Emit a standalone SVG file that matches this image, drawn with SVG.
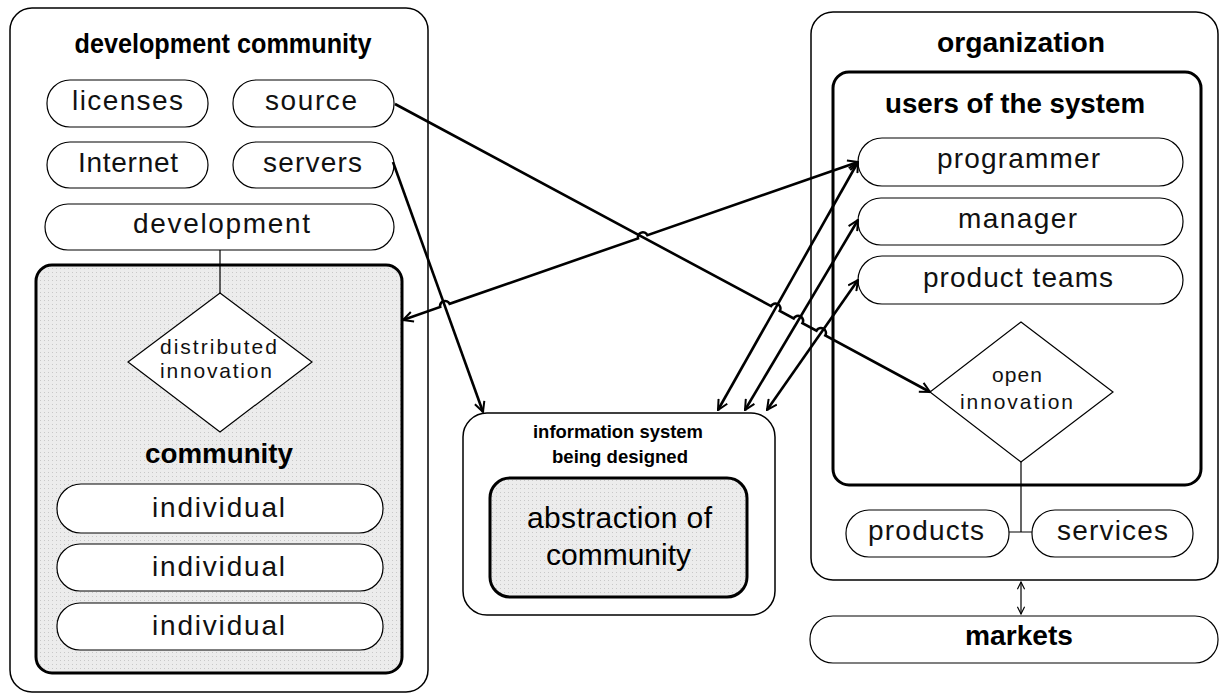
<svg xmlns="http://www.w3.org/2000/svg" width="1220" height="696" viewBox="0 0 1220 696">
<defs>
<pattern id="dots" width="4" height="4" patternUnits="userSpaceOnUse">
<rect width="4" height="4" fill="#ececec"/>
<rect x="0" y="0" width="1" height="1" fill="#c8c8c8"/>
</pattern>
<marker id="arr" viewBox="0 0 12 12" refX="11" refY="6" markerWidth="12" markerHeight="12" markerUnits="userSpaceOnUse" orient="auto-start-reverse">
<path d="M1,1 L11,6 L1,11" fill="none" stroke="#000" stroke-width="2"/>
</marker>
<marker id="arrs" viewBox="0 0 10 10" refX="9" refY="5" markerWidth="9" markerHeight="9" markerUnits="userSpaceOnUse" orient="auto-start-reverse">
<path d="M1,1 L9,5 L1,9" fill="none" stroke="#000" stroke-width="1.3"/>
</marker>
</defs>
<style>
.box{fill:#fff;stroke:#000;stroke-width:1.5}
.thick{fill:url(#dots);stroke:#000;stroke-width:3}
.thickw{fill:#fff;stroke:#000;stroke-width:3}
.pill{fill:#fff;stroke:#000;stroke-width:1.2}
.dia{fill:#fff;stroke:#000;stroke-width:1.2}
.t{font-family:"Liberation Sans",Arial,sans-serif;font-size:28px;fill:#111;text-anchor:middle}
.s{font-size:21px}
.b{font-family:"Liberation Sans",Arial,sans-serif;font-weight:bold;font-size:27px;fill:#000;text-anchor:middle}
.thin{fill:none;stroke:#000;stroke-width:1.2}
.con{fill:none;stroke:#000;stroke-width:2.6;marker-end:url(#arr)}
.both{marker-start:url(#arr)}
</style>
<rect width="1220" height="696" fill="#fff"/>

<g id="development-community">
<rect class="box" x="10" y="8" width="418" height="684" rx="22"/>
<text class="b" x="223" y="53" textLength="297" lengthAdjust="spacingAndGlyphs">development community</text>
</g>
<g id="licenses"><rect class="pill" x="47" y="80" width="161" height="47" rx="23"/><text class="t" x="127.5" y="110" textLength="111">licenses</text></g>
<g id="source"><rect class="pill" x="233" y="80" width="161" height="47" rx="23"/><text class="t" x="311" y="110" textLength="92">source</text></g>
<g id="internet"><rect class="pill" x="47" y="142" width="161" height="46" rx="23"/><text class="t" x="128" y="172" textLength="100">Internet</text></g>
<g id="servers"><rect class="pill" x="233" y="142" width="161" height="46" rx="23"/><text class="t" x="312.5" y="172" textLength="99">servers</text></g>
<g id="development"><rect class="pill" x="45" y="204" width="349" height="46" rx="23"/><text class="t" x="221.5" y="233" textLength="177">development</text></g>
<g id="community">
<rect class="thick" x="36" y="265" width="366" height="408" rx="16"/>
<text class="b" x="219" y="463" textLength="148" lengthAdjust="spacingAndGlyphs">community</text>
</g>
<g id="distributed-innovation">
<polygon class="dia" points="220,293 312,362 220,432 128,362"/>
<text class="t s" x="218.5" y="354" textLength="117">distributed</text>
<text class="t s" x="216" y="378" textLength="112">innovation</text>
</g>
<g id="individual-1"><rect class="pill" x="57" y="484" width="326" height="49" rx="24"/><text class="t" x="218.5" y="517" textLength="133">individual</text></g>
<g id="individual-2"><rect class="pill" x="57" y="544" width="326" height="47" rx="23"/><text class="t" x="218.5" y="576" textLength="133">individual</text></g>
<g id="individual-3"><rect class="pill" x="57" y="603" width="326" height="47" rx="23"/><text class="t" x="218.5" y="635" textLength="133">individual</text></g>

<g id="information-system">
<rect class="box" x="463" y="413" width="312" height="202" rx="24"/>
<text class="b" style="font-size:19px" x="618" y="438" textLength="170" lengthAdjust="spacingAndGlyphs">information system</text>
<text class="b" style="font-size:19px" x="620" y="463" textLength="136" lengthAdjust="spacingAndGlyphs">being designed</text>
</g>
<g id="abstraction-of-community">
<rect class="thick" x="490" y="478" width="257" height="119" rx="20"/>
<text class="t" style="font-size:30px;fill:#000" x="619.5" y="528" textLength="185">abstraction of</text>
<text class="t" style="font-size:30px;fill:#000" x="618.5" y="565" textLength="145">community</text>
</g>

<g id="organization">
<rect class="box" x="811" y="12" width="407" height="568" rx="22"/>
<text class="b" x="1021" y="52" textLength="168" lengthAdjust="spacingAndGlyphs">organization</text>
</g>
<g id="users-of-the-system">
<rect class="thickw" x="833" y="72" width="368" height="413" rx="16"/>
<text class="b" x="1015" y="113" textLength="260" lengthAdjust="spacingAndGlyphs">users of the system</text>
</g>
<g id="programmer"><rect class="pill" x="858" y="138" width="325" height="48" rx="24"/><text class="t" x="1018.5" y="168" textLength="163">programmer</text></g>
<g id="manager"><rect class="pill" x="858" y="198" width="325" height="47" rx="23"/><text class="t" x="1017.5" y="228" textLength="119">manager</text></g>
<g id="product-teams"><rect class="pill" x="858" y="256" width="325" height="48" rx="24"/><text class="t" x="1018" y="287" textLength="190">product teams</text></g>
<g id="open-innovation">
<polygon class="dia" points="1021,322 1113,392 1021,462 930,392"/>
<text class="t s" x="1017" y="382" textLength="50">open</text>
<text class="t s" x="1016.5" y="409" textLength="113">innovation</text>
</g>
<g id="products"><rect class="pill" x="846" y="510" width="163" height="47" rx="23"/><text class="t" x="926" y="540" textLength="116">products</text></g>
<g id="services"><rect class="pill" x="1032" y="510" width="161" height="47" rx="23"/><text class="t" x="1112.5" y="540" textLength="111">services</text></g>
<g id="markets"><rect class="pill" x="810" y="616" width="408" height="47" rx="23"/><text class="b" x="1019" y="645" textLength="108" lengthAdjust="spacingAndGlyphs">markets</text></g>

<g id="connectors">
<path class="thin" d="M220,250 L220,293"/>
<path class="thin" d="M1021,462 L1021,532 M1009,532 L1032,532"/>
<path class="thin" d="M1021,582 L1021,614" marker-start="url(#arrs)" marker-end="url(#arrs)"/>
<path class="con" d="M395,104 L771.0,306.1 A5,5 0 0 1 779.8,310.9 L793.7,318.4 A5,5 0 0 1 802.5,323.2 L816.5,330.7 A5,5 0 0 1 825.3,335.5 L930,392"/>
<path class="con" d="M393,162 L483,412"/>
<path class="con both" d="M403,320 L440.2,307.0 A5,5 0 0 1 449.6,303.8 L638.0,238.4 A5,5 0 0 1 647.4,235.2 L858,162"/>
<path class="con both" d="M718,410 L858,162"/>
<path class="con both" d="M745,410 L858,220"/>
<path class="con both" d="M767,410 L858,280"/>
</g>
</svg>
